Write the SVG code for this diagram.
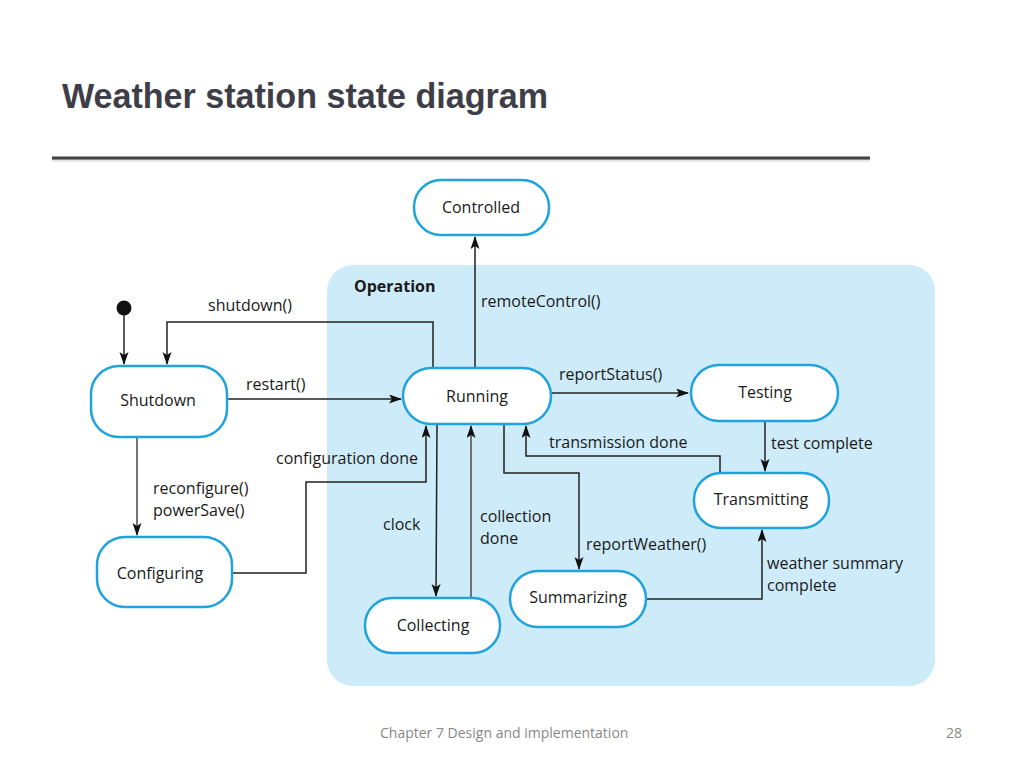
<svg xmlns="http://www.w3.org/2000/svg" width="1024" height="768" viewBox="0 0 1024 768">
<defs>
<marker id="arr" markerUnits="userSpaceOnUse" markerWidth="14" markerHeight="10" refX="12" refY="4.5" orient="auto">
<path d="M0,0 L13,4.5 L0,9 L3,4.5 z" fill="#111"/>
</marker>
<linearGradient id="sh" x1="0" y1="0" x2="0" y2="1">
<stop offset="0" stop-color="#999" stop-opacity="0.6"/>
<stop offset="1" stop-color="#fff" stop-opacity="0"/>
</linearGradient>
</defs>
<style>
.node{fill:#ffffff;stroke:#1fa3dd;stroke-width:2.5}
.nt{font-family:"Open Sans","Noto Sans",sans-serif;font-size:16px;fill:#1a1a1a;text-anchor:middle}
.lb{font-family:"Open Sans","Noto Sans",sans-serif;font-size:16px;fill:#1a1a1a}
.cn{fill:none;stroke:#222;stroke-width:1.5}
.cg{fill:none;stroke:#666;stroke-width:1.8}
.ft{font-family:"Open Sans","Noto Sans",sans-serif;font-size:14px;fill:#888}
</style>
<rect width="1024" height="768" fill="#ffffff"/>
<text x="62" y="108" font-family="Liberation Sans,Arial,sans-serif" font-weight="bold" font-size="35" fill="#3e3e48" textLength="486" lengthAdjust="spacingAndGlyphs">Weather station state diagram</text>
<rect x="52" y="159" width="818" height="5" fill="url(#sh)"/>
<line x1="52" y1="158" x2="870" y2="158" stroke="#444" stroke-width="3"/>

<g id="operation">
<rect x="327" y="265" width="608" height="421" rx="26" fill="#cdebf8"/>
<text x="354" y="292" font-family="Open Sans,Noto Sans,sans-serif" font-weight="bold" font-size="16" fill="#1a1a1a">Operation</text>
</g>

<g id="connectors">
<path class="cn" d="M124,315 L124,364" marker-end="url(#arr)"/>
<path class="cn" d="M433,367 L433,322 L167,322 L167,364" marker-end="url(#arr)"/>
<path class="cn" d="M227,399 L401,399" marker-end="url(#arr)"/>
<path class="cn" d="M475,367 L475,237" marker-end="url(#arr)"/>
<path class="cn" d="M551,393 L688,393" marker-end="url(#arr)"/>
<path class="cn" d="M765,421 L765,471" marker-end="url(#arr)"/>
<path class="cn" d="M720,473 L720,456 L526,456 L526,426" marker-end="url(#arr)"/>
<path class="cn" d="M504,424 L504,473 L579,473 L579,569" marker-end="url(#arr)"/>
<path class="cn" d="M646,599 L762,599 L762,530" marker-end="url(#arr)"/>
<path class="cn" d="M437,424 L436,596" marker-end="url(#arr)"/>
<path class="cg" d="M471,598 L471,426" marker-end="url(#arr)"/>
<path class="cn" d="M232,573 L306,573 L306,482 L426,482 L426,426" marker-end="url(#arr)"/>
<path class="cg" d="M137,437 L137,535" marker-end="url(#arr)"/>
</g>

<g id="initial"><circle cx="124" cy="308" r="7.5" fill="#111"/></g>

<g id="controlled"><rect class="node" x="414" y="180" width="135" height="55" rx="27"/><text class="nt" x="481" y="213">Controlled</text></g>
<g id="shutdown"><rect class="node" x="91" y="366" width="136" height="71" rx="28"/><text class="nt" x="158" y="406">Shutdown</text></g>
<g id="running"><rect class="node" x="403" y="368" width="148" height="56" rx="28"/><text class="nt" x="477" y="402">Running</text></g>
<g id="testing"><rect class="node" x="691" y="365" width="147" height="56" rx="28"/><text class="nt" x="765" y="398">Testing</text></g>
<g id="transmitting"><rect class="node" x="694" y="473" width="135" height="55" rx="27"/><text class="nt" x="761" y="505">Transmitting</text></g>
<g id="configuring"><rect class="node" x="97" y="537" width="135" height="70" rx="28"/><text class="nt" x="160" y="579">Configuring</text></g>
<g id="collecting"><rect class="node" x="365" y="598" width="135" height="55" rx="27"/><text class="nt" x="433" y="631">Collecting</text></g>
<g id="summarizing"><rect class="node" x="510" y="571" width="136" height="56" rx="28"/><text class="nt" x="578" y="603">Summarizing</text></g>

<g id="labels">
<text class="lb" x="208" y="311">shutdown()</text>
<text class="lb" x="246" y="390">restart()</text>
<text class="lb" x="481" y="307">remoteControl()</text>
<text class="lb" x="559" y="380">reportStatus()</text>
<text class="lb" x="549" y="448">transmission done</text>
<text class="lb" x="771" y="449">test complete</text>
<text class="lb" x="276" y="464">configuration done</text>
<text class="lb" x="153" y="494">reconfigure()</text>
<text class="lb" x="153" y="516">powerSave()</text>
<text class="lb" x="383" y="530">clock</text>
<text class="lb" x="480" y="522">collection</text>
<text class="lb" x="480" y="544">done</text>
<text class="lb" x="586" y="550">reportWeather()</text>
<text class="lb" x="767" y="569">weather summary</text>
<text class="lb" x="767" y="591">complete</text>
</g>

<text class="ft" x="380" y="738">Chapter 7 Design and implementation</text>
<text class="ft" x="946" y="738">28</text>
</svg>
